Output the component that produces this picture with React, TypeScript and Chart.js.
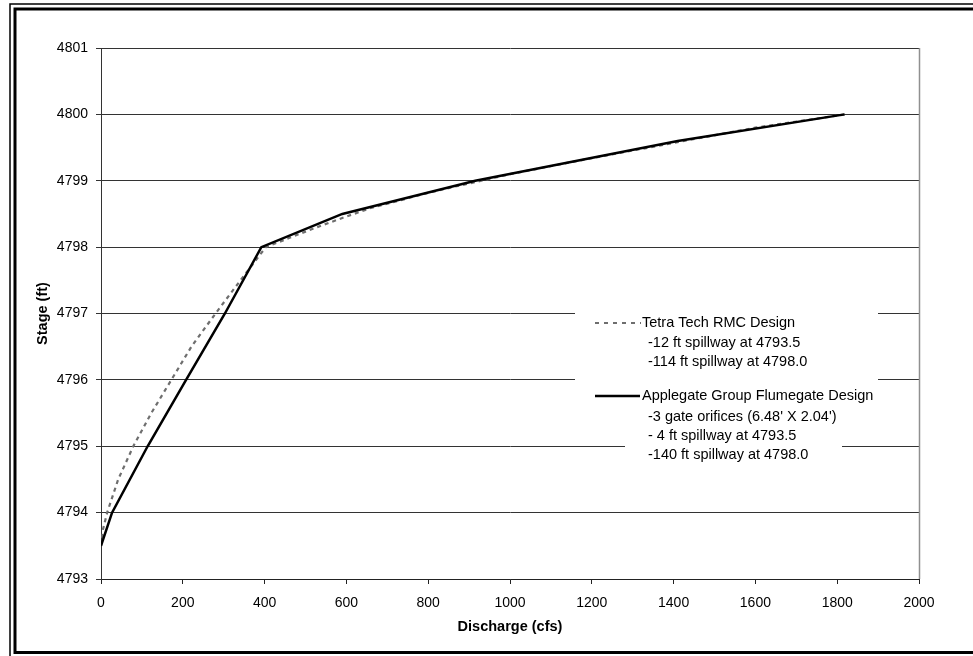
import React, { useEffect, useRef } from "react";
import { Chart, registerables } from "chart.js";

Chart.register(...registerables);

// ---- data ----
const xTickValues = [0, 200, 400, 600, 800, 1000, 1200, 1400, 1600, 1800, 2000];
const yTickValues = [4793, 4794, 4795, 4796, 4797, 4798, 4799, 4800, 4801];

const tetraCfs = [0, 5, 15, 42, 79, 123, 172, 221, 280, 341, 403, 461, 528, 595, 660, 728, 795, 864, 930, 1000, 1200, 1400, 1600, 1820];
const tetraStage = [4793.5, 4793.75, 4794.0, 4794.5, 4795.0, 4795.5, 4796.0, 4796.5, 4797.0, 4797.5, 4798.0, 4798.14, 4798.3, 4798.45, 4798.59, 4798.7, 4798.81, 4798.91, 4799.0, 4799.1, 4799.34, 4799.57, 4799.8, 4800.0];

const applegateCfs = [0, 27, 114, 208, 303, 392, 590, 915, 1410, 1818];
const applegateStage = [4793.5, 4794.0, 4795.0, 4796.0, 4797.0, 4798.0, 4798.5, 4799.0, 4799.6, 4800.0];

const seriesNames = ["Tetra Tech RMC Design", "Applegate Group Flumegate Design"];
const tetraNotes = ["-12 ft spillway at 4793.5", "-114 ft spillway at 4798.0"];
const applegateNotes = ["-3 gate orifices (6.48' X 2.04')", "- 4 ft spillway at 4793.5", "-140 ft spillway at 4798.0"];
const xTitle = "Discharge (cfs)";
const yTitle = "Stage (ft)";

const FONT = "'Liberation Sans', Arial, Helvetica, sans-serif";

const framePlugin = {
  id: "framePlugin",
  beforeDraw(chart: any) {
    const ctx = chart.ctx;
    ctx.save();
    ctx.fillStyle = "#ffffff";
    ctx.fillRect(0, 0, chart.width, chart.height);
    ctx.strokeStyle = "#000";
    ctx.lineWidth = 1.5;
    ctx.strokeRect(10, 4, 1000, 660);
    ctx.lineWidth = 3;
    ctx.strokeRect(15, 9, 990, 643.5);
    ctx.restore();
  },
  afterDraw(chart: any) {
    const ctx = chart.ctx;
    const a = chart.chartArea;
    ctx.save();
    ctx.strokeStyle = "#909090";
    ctx.lineWidth = 1.5;
    ctx.beginPath();
    ctx.moveTo(a.right + 0.5, a.top);
    ctx.lineTo(a.right + 0.5, a.bottom);
    ctx.stroke();

    // legend
    ctx.fillStyle = "#fff";
    ctx.fillRect(575, 298, 303, 142);
    ctx.fillRect(625, 405, 217, 62);

    ctx.lineCap = "butt";
    ctx.strokeStyle = "#6e6e6e";
    ctx.lineWidth = 2.2;
    ctx.setLineDash([4, 5]);
    ctx.beginPath();
    ctx.moveTo(595, 323);
    ctx.lineTo(641, 323);
    ctx.stroke();
    ctx.setLineDash([]);
    ctx.strokeStyle = "#000";
    ctx.lineWidth = 2.5;
    ctx.beginPath();
    ctx.moveTo(595, 396);
    ctx.lineTo(640, 396);
    ctx.stroke();

    ctx.fillStyle = "#000";
    ctx.font = `14.5px ${FONT}`;
    ctx.textAlign = "left";
    ctx.textBaseline = "middle";
    ctx.fillText(seriesNames[0], 642, 323);
    tetraNotes.forEach((t, i) => ctx.fillText(t, 648, 343 + i * 19));
    ctx.fillText(seriesNames[1], 642, 396);
    applegateNotes.forEach((t, i) => ctx.fillText(t, 648, 417 + i * 19));
    ctx.restore();
  },
};

export default function App() {
  const ref = useRef<HTMLCanvasElement | null>(null);

  useEffect(() => {
    document.body.style.margin = "0";
    const canvas = ref.current;
    if (!canvas) return;
    const chart = new Chart(canvas, {
      type: "line",
      data: {
        datasets: [
          {
            label: seriesNames[1],
            data: applegateCfs.map((x, i) => ({ x, y: applegateStage[i] })),
            borderColor: "#000",
            borderWidth: 2.5,
            pointRadius: 0,
            tension: 0,
            fill: false,
          },
          {
            label: seriesNames[0],
            data: tetraCfs.map((x, i) => ({ x, y: tetraStage[i] })),
            borderColor: "#6e6e6e",
            borderWidth: 2.2,
            borderDash: [4, 4],
            pointRadius: 0,
            tension: 0,
            fill: false,
          },
        ],
      },
      options: {
        responsive: false,
        animation: false,
        devicePixelRatio: 1,
        layout: { padding: { left: 0, top: 48, right: 54, bottom: 0 } },
        plugins: { legend: { display: false }, tooltip: { enabled: false } },
        scales: {
          x: {
            type: "linear",
            min: 0,
            max: 2000,
            afterBuildTicks: (axis: any) => {
              axis.ticks = xTickValues.map((v) => ({ value: v }));
            },
            afterFit: (s: any) => {
              s.height = 77;
            },
            grid: { drawOnChartArea: false, drawTicks: true, tickLength: 5, color: "#222", lineWidth: 1 },
            border: { display: true, color: "#222", width: 1 },
            ticks: {
              callback: (v: any) => String(v),
              color: "#000",
              font: { family: FONT, size: 14 },
              padding: 11,
              maxRotation: 0,
              autoSkip: false,
            },
            title: {
              display: true,
              text: xTitle,
              color: "#000",
              font: { family: FONT, size: 14.5, weight: "bold" },
              padding: { top: 0, bottom: 20 },
            },
          },
          y: {
            type: "linear",
            min: 4793,
            max: 4801,
            afterBuildTicks: (axis: any) => {
              axis.ticks = yTickValues.map((v) => ({ value: v }));
            },
            afterFit: (s: any) => {
              s.width = 101;
            },
            grid: { drawTicks: true, tickLength: 5, color: "#333", lineWidth: 1 },
            border: { display: true, color: "#333", width: 1 },
            ticks: {
              callback: (v: any) => String(v),
              color: "#000",
              font: { family: FONT, size: 14 },
              padding: 8,
              autoSkip: false,
            },
            title: {
              display: true,
              text: yTitle,
              color: "#000",
              font: { family: FONT, size: 14.5, weight: "bold" },
              padding: { top: 34, bottom: 0 },
            },
          },
        },
      },
      plugins: [framePlugin],
    });
    return () => chart.destroy();
  }, []);

  return (
    <div style={{ position: "absolute", left: 0, top: 0, width: 973, height: 656 }}>
      <canvas ref={ref} width={973} height={656} style={{ display: "block" }} />
    </div>
  );
}
